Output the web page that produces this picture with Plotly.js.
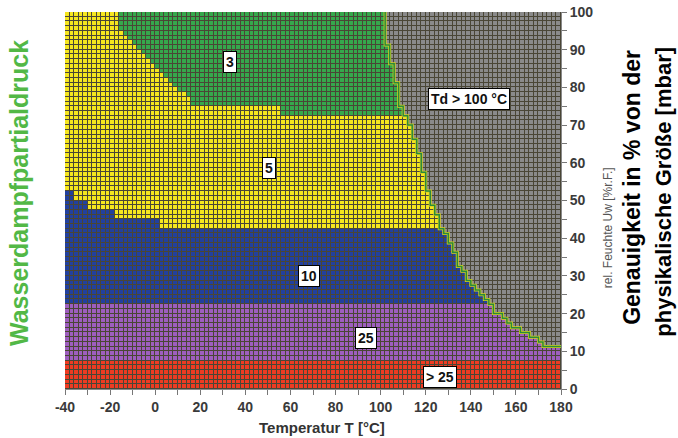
<!DOCTYPE html>
<html><head><meta charset="utf-8">
<script src="https://cdn.plot.ly/plotly-3.0.1.min.js"></script>
<style>html,body{margin:0;padding:0;background:#fff}</style>
</head><body><div id="chart" style="width:678px;height:438px"></div>
<script>
// Accuracy classes (% of physical quantity), bottom to top, plus Td > 100 °C zone
const classLabels = ['> 25', '25', '10', '5', '3', 'Td > 100 °C'];
const classColors = ['#ef3b22', '#9e5ebf', '#22409f', '#f6e61e', '#35a84c', '#8a8a8a'];
// grid of the chart (temperature in °C, rel. humidity in %)
const cellT = 2, cellH = 1.25;
const tMin = -40, tMax = 180, hMax = 100;
// fixed class limits (rel. humidity %)
const redTop = 7.5;
const purpleTop = 22.5;
// blue (10) / yellow (5) limit: start temperature of each step and its humidity
const blueTopT = [-40, -36, -30, -18, 2];
const blueTopH = [52.5, 50, 47.5, 45, 42.5];
// yellow (5) / green (3) limit
const greenT = [-16, -14, -12, -10, -8, -6, -4, -2, 0, 2, 4, 6, 8, 10, 14, 16, 56];
const greenH = [95, 93.75, 92.5, 91.25, 90, 88.75, 87.5, 86.25, 85, 83.75, 82.5, 81.25, 80, 78.75, 77.5, 75, 72.5];
// lower limit of the Td > 100 °C zone
const grayT = [102,104,106,108,110,112,114,116,118,120,122,124,126,128,130,132,134,136,138,140,
               142,144,146,148,150,152,154,156,158,160,162,164,166,168,170,172,174,176,178];
const grayH = [91.25,86.25,81.25,75,72.5,70,66.25,62.5,57.5,52.5,48.75,46.25,42.5,41.25,38.75,36.25,32.5,31.25,28.75,27.5,
               26.25,25,23.75,22.5,20,20,18.75,17.5,16.25,16.25,15,15,13.75,13.75,12.5,11.25,11.25,11.25,11.25];
// axis ticks
const xTicks = [-40, -20, 0, 20, 40, 60, 80, 100, 120, 140, 160, 180];
const yTicks = [0, 10, 20, 30, 40, 50, 60, 70, 80, 90, 100];
// region labels: [text, temperature, humidity]
const labelText = ['3', '5', '10', '25', '> 25', 'Td > 100 °C'];
const labelT = [33.2, 50.5, 68.2, 93.5, 126.3, 139.4];
const labelH = [86.8, 58.6, 30.1, 13.5, 3.1, 76.8];

function stepVal(Ts, Hs, t, def) {
  let v = def;
  for (let i = 0; i < Ts.length; i++) if (t >= Ts[i] - 1e-9) v = Hs[i];
  return v;
}

const xs = [], ys = [], z = [];
const nCols = Math.round((tMax - tMin) / cellT), nRows = Math.round(hMax / cellH);
for (let j = 0; j < nCols; j++) xs.push(tMin + cellT * (j + 0.5));
for (let i = 0; i < nRows; i++) ys.push(cellH * (i + 0.5));
for (let i = 0; i < nRows; i++) {
  const row = [], h = ys[i];
  for (let j = 0; j < nCols; j++) {
    const t = tMin + cellT * j;
    const gB = stepVal(grayT, grayH, t, Infinity);
    const bT = stepVal(blueTopT, blueTopH, t, blueTopH[0]);
    const gN = stepVal(greenT, greenH, t, Infinity);
    let c;
    if (h > gB) c = 5;
    else if (h < redTop) c = 0;
    else if (h < purpleTop) c = 1;
    else if (h < bT) c = 2;
    else if (h < gN) c = 3;
    else c = 4;
    row.push(c);
  }
  z.push(row);
}
const cs = [];
classColors.forEach((col, k) => { cs.push([k / 6, col]); cs.push([(k + 1) / 6, col]); });

// staircase edge of the Td > 100 °C zone
const edgeX = [grayT[0]], edgeY = [hMax];
grayT.forEach((t, k) => { edgeX.push(t); edgeY.push(grayH[k]); });
edgeX.push(tMax); edgeY.push(grayH[grayH.length - 1]);

const traces = [
  { type: 'heatmap', x: xs, y: ys, z: z, zmin: -0.5, zmax: 5.5, colorscale: cs,
    showscale: false, xgap: 1, ygap: 1, hoverinfo: 'skip' },
  { type: 'scatter', mode: 'lines', x: edgeX, y: edgeY, line: { shape: 'hv', color: '#d6d020', width: 3 }, hoverinfo: 'skip' },
  { type: 'scatter', mode: 'lines', x: edgeX, y: edgeY, line: { shape: 'hv', color: '#2a8a3a', width: 1.5 }, hoverinfo: 'skip' }
];

const fam = 'Liberation Sans, Arial, sans-serif';
const tickFont = { family: fam, size: 14, color: '#3a3a3a', weight: 'bold' };
const ann = [];
labelText.forEach((s, k) => ann.push({
  x: labelT[k], y: labelH[k], xref: 'x', yref: 'y', xanchor: 'center', yanchor: 'middle', text: s, showarrow: false,
  bgcolor: '#ffffff', bordercolor: '#000000', borderwidth: 1, borderpad: 2,
  font: { family: fam, size: 14, color: '#111', weight: 'bold' }
}));
function pAnn(x, y, text, angle, font) {
  ann.push({ x: x, y: y, xref: 'paper', yref: 'paper', xanchor: 'center', yanchor: 'middle',
    text: text, textangle: angle, showarrow: false, font: font });
}
pAnn(-0.0927, 0.52, 'Wasserdampfpartialdruck', -90, { family: fam, size: 25, color: '#52b846', weight: 'bold' });
pAnn(1.143, 0.536, 'Genauigkeit in % von der', -90, { family: fam, size: 23, color: '#000', weight: 'bold' });
pAnn(1.205, 0.5225, 'physikalische Größe [mbar]', -90, { family: fam, size: 22, color: '#000', weight: 'bold' });
pAnn(1.095, 0.427, 'rel. Feuchte Uw [%r.F.]', -90, { family: fam, size: 12, color: '#555' });
pAnn(0.518, -0.1008, 'Temperatur T [°C]', 0, { family: fam, size: 15, color: '#333', weight: 'bold' });

const layout = {
  width: 678, height: 438,
  margin: { l: 65, r: 117, t: 12, b: 49 },
  paper_bgcolor: '#ffffff', plot_bgcolor: '#4a4636',
  showlegend: false,
  xaxis: { range: [tMin, tMax], tickmode: 'array', tickvals: xTicks, ticktext: xTicks.map(String),
    ticks: 'outside', ticklen: 5, tickcolor: '#777', tickfont: tickFont,
    minor: { tickmode: 'linear', tick0: -30, dtick: 20, ticks: 'outside', ticklen: 5, tickcolor: '#777' },
    showgrid: false, zeroline: false, showline: true, linecolor: '#888', fixedrange: true },
  yaxis: { range: [0, hMax], side: 'right', tickmode: 'array', tickvals: yTicks, ticktext: yTicks.map(String),
    ticks: 'outside', ticklen: 5, tickcolor: '#777', tickfont: tickFont,
    minor: { tickmode: 'linear', tick0: 5, dtick: 10, ticks: 'outside', ticklen: 5, tickcolor: '#777' },
    showgrid: false, zeroline: false, showline: true, linecolor: '#888', fixedrange: true },
  annotations: ann
};
Plotly.newPlot('chart', traces, layout, { staticPlot: true, displayModeBar: false });
</script>
</body></html>
